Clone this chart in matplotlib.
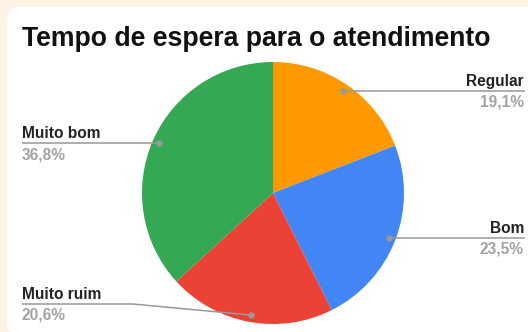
import matplotlib
matplotlib.use("Agg")
import matplotlib.pyplot as plt
import numpy as np
from matplotlib.patches import FancyBboxPatch

# chart data
title = "Tempo de espera para o atendimento"
categories = ["Regular", "Bom", "Muito ruim", "Muito bom"]
values = [19.1, 23.5, 20.6, 36.8]
pct_labels = ["19,1%", "23,5%", "20,6%", "36,8%"]
colors = ["#FF9900", "#4285F4", "#EA4335", "#34A853"]

# label layout (pixel coords, y measured from the top)
sides = ["right", "right", "left", "left"]
line_y = [None, None, 304, None]   # None -> line at dot height
elbow_x = [None, None, 133, None]

W, H = 528, 332
plt.rcParams["font.family"] = ["Liberation Sans", "DejaVu Sans"]

fig = plt.figure(figsize=(W / 100, H / 100), dpi=100)
fig.patch.set_facecolor("#FDF3E5")
ax = fig.add_axes([0, 0, 1, 1])
ax.set_facecolor("none")


def Y(y):
    return H - y


# white card
card = FancyBboxPatch((7, Y(335)), 540, 328, boxstyle="round,pad=0,rounding_size=13",
                      facecolor="white", edgecolor="none", zorder=0)
ax.add_patch(card)

cx, cy, R = 273, Y(193), 131
wedges, _ = ax.pie(values, colors=colors, startangle=90, counterclock=False,
                   center=(cx, cy), radius=R, frame=True,
                   wedgeprops=dict(linewidth=0))

line_col = "#999999"
for i, w in enumerate(wedges):
    mid = np.deg2rad((w.theta1 + w.theta2) / 2)
    dx = cx + 0.947 * R * np.cos(mid)
    dy = cy + 0.947 * R * np.sin(mid)
    ly = dy if line_y[i] is None else Y(line_y[i])
    if sides[i] == "right":
        xs, ys = [dx, 525], [dy, ly]
        tx, ha = 524, "right"
    else:
        if elbow_x[i] is None:
            xs, ys = [22, dx], [ly, dy]
        else:
            xs, ys = [22, elbow_x[i], dx], [ly, ly, dy]
        tx, ha = 22, "left"
    ax.plot(xs, ys, color=line_col, lw=1.1, zorder=3, solid_capstyle="butt")
    ax.plot([dx], [dy], "o", ms=4.5, color=line_col, mec="none", zorder=4)
    ax.text(tx, ly + 5, categories[i], ha=ha, va="baseline", fontsize=11.2,
            fontweight="bold", color="#222222", zorder=5)
    ax.text(tx, ly - 16, pct_labels[i], ha=ha, va="baseline", fontsize=11.2,
            fontweight="bold", color="#A3A3A3", zorder=5)

ax.text(22, Y(46.5), title, ha="left", va="baseline", fontsize=19.2,
        fontweight="bold", color="#111111")

ax.set_xlim(0, W)
ax.set_ylim(0, H)
ax.set_aspect("auto")
ax.axis("off")

fig.savefig("out.png", dpi=100, facecolor=fig.get_facecolor())
